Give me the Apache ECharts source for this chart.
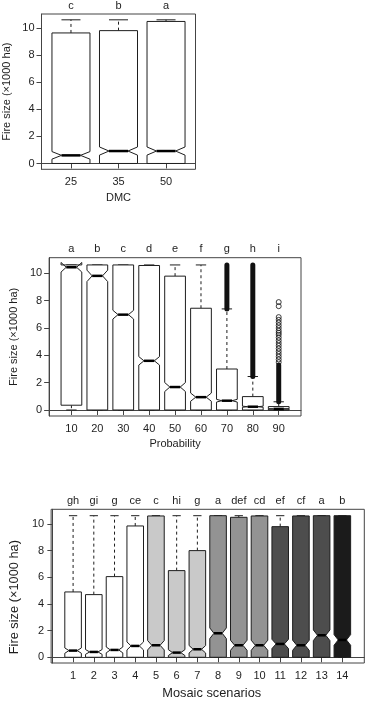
<!DOCTYPE html>
<html>
<head>
    <meta charset="utf-8" />
    <title></title>
    <script src="https://cdn.jsdelivr.net/npm/echarts@6/dist/echarts.min.js"></script>
    <style>
        body { margin: 0; background: #fff; }
        #divChart { width: 365px; height: 701px; }
    </style>
    <script>
        // y ticks shared by all three panels
        let yTicks = [0, 2, 4, 6, 8, 10];

        // panel 1: DMC
        let dmcLabels = ['25', '35', '50'];
        let dmcLetters = ['c', 'b', 'a'];
        let dmcLo = [0, 0, 0];
        let dmcQ1 = [0, 0, 0];
        let dmcMed = [0.6, 0.92, 0.92];
        let dmcQ3 = [9.65, 9.82, 10.5];
        let dmcHi = [10.62, 10.62, 10.62];
        let dmcNotch = [0.28, 0.3, 0.3];

        // panel 2: Probability
        let probLabels = ['10', '20', '30', '40', '50', '60', '70', '80', '90'];
        let probLetters = ['a', 'b', 'c', 'd', 'e', 'f', 'g', 'h', 'i'];
        let probLo = [0, 0, 0, 0, 0, 0, 0, 0, 0];
        let probQ1 = [0.35, 0, 0, 0, 0, 0, 0, 0, 0];
        let probMed = [10.45, 9.82, 6.98, 3.6, 1.68, 0.94, 0.68, 0.24, 0.08];
        let probQ3 = [10.62, 10.62, 10.62, 10.58, 9.8, 7.45, 3.0, 0.98, 0.25];
        let probHi = [10.62, 10.62, 10.62, 10.62, 10.62, 10.62, 7.4, 2.45, 0.6];
        let probNotch = [0.35, 0.42, 0.32, 0.31, 0.33, 0.3, 0.1, 0.04, 0.01];
        // dense runs of outliers (box, from, to) and single outliers
        let probOutRuns = [[7, 7.4, 10.62], [8, 2.45, 10.62], [9, 0.6, 3.3]];
        let probOutPts = [[9, 3.5], [9, 3.7], [9, 3.9], [9, 4.1], [9, 4.3], [9, 4.5], [9, 4.7], [9, 4.9],
            [9, 5.1], [9, 5.3], [9, 5.5], [9, 5.65], [9, 5.8], [9, 6.0], [9, 6.2], [9, 6.4], [9, 6.6],
            [9, 6.8], [9, 7.6], [9, 7.9]];

        // panel 3: Mosaic scenarios
        let mosLabels = ['1', '2', '3', '4', '5', '6', '7', '8', '9', '10', '11', '12', '13', '14'];
        let mosLetters = ['gh', 'gi', 'g', 'ce', 'c', 'hi', 'g', 'a', 'def', 'cd', 'ef', 'cf', 'a', 'b'];
        let mosGroup = [0, 0, 0, 0, 1, 1, 1, 2, 2, 2, 3, 3, 3, 4];
        let mosLo = [0, 0, 0, 0, 0, 0, 0, 0, 0, 0, 0, 0, 0, 0];
        let mosQ1 = [0, 0, 0, 0, 0, 0, 0, 0, 0, 0, 0, 0, 0, 0];
        let mosMed = [0.5, 0.4, 0.55, 0.85, 0.9, 0.35, 0.6, 1.8, 0.9, 0.9, 1.0, 0.9, 1.65, 1.3];
        let mosQ3 = [4.9, 4.7, 6.05, 9.85, 10.6, 6.5, 8.0, 10.62, 10.5, 10.6, 9.8, 10.6, 10.62, 10.62];
        let mosHi = [10.62, 10.62, 10.62, 10.62, 10.62, 10.62, 10.62, 10.62, 10.62, 10.62, 10.62, 10.62, 10.62, 10.62];
        let mosNotch = [0.2, 0.18, 0.22, 0.3, 0.35, 0.22, 0.28, 0.4, 0.38, 0.38, 0.35, 0.38, 0.4, 0.4];

        let mosFills = ['#ffffff', '#c9c9c9', '#939393', '#4d4d4d', '#1b1b1b'];

        let font = 'Liberation Sans, Arial, Helvetica, sans-serif';
        let ink = '#1e1e1e';

        window.addEventListener('load', function () {
            InitChart();
        });

        function rows(lo, q1, med, q3, hi, notch, group) {
            return lo.map(function (v, k) {
                return [k + 1, lo[k], q1[k], med[k], q3[k], hi[k], notch[k], group ? group[k] : 0];
            });
        }

        function renderBox(fills) {
            return function (params, api) {
                var x = api.value(0), lo = api.value(1), q1 = api.value(2), md = api.value(3),
                    q3 = api.value(4), hi = api.value(5), n = api.value(6), fill = fills[api.value(7)];
                var hw = 0.4, nw = 0.2;
                var P = function (dx, y) { return api.coord([x + dx, y]); };
                var dash = { stroke: ink, lineWidth: 1, lineDash: [3, 3] };
                var solid = { stroke: ink, lineWidth: 1 };
                var kids = [];
                if (hi > q3) {
                    var a = P(0, q3), b = P(0, hi);
                    kids.push({ type: 'line', shape: { x1: a[0], y1: a[1], x2: b[0], y2: b[1] }, style: dash });
                }
                if (lo < q1) {
                    var c = P(0, q1), d = P(0, lo);
                    kids.push({ type: 'line', shape: { x1: c[0], y1: c[1], x2: d[0], y2: d[1] }, style: dash });
                }
                var h1 = P(-nw, hi), h2 = P(nw, hi), l1 = P(-nw, lo), l2 = P(nw, lo);
                kids.push({ type: 'line', shape: { x1: h1[0], y1: h1[1], x2: h2[0], y2: h2[1] }, style: solid });
                kids.push({ type: 'line', shape: { x1: l1[0], y1: l1[1], x2: l2[0], y2: l2[1] }, style: solid });
                kids.push({
                    type: 'polygon',
                    shape: {
                        points: [P(-hw, q1), P(-hw, md - n), P(-nw, md), P(-hw, md + n), P(-hw, q3),
                            P(hw, q3), P(hw, md + n), P(nw, md), P(hw, md - n), P(hw, q1)]
                    },
                    style: { fill: fill, stroke: ink, lineWidth: 1 }
                });
                var m1 = P(-nw, md), m2 = P(nw, md);
                kids.push({ type: 'line', shape: { x1: m1[0], y1: m1[1], x2: m2[0], y2: m2[1] }, style: { stroke: '#000', lineWidth: 2.5 } });
                return { type: 'group', children: kids };
            };
        }

        function renderRun(params, api) {
            var a = api.coord([api.value(0), api.value(1)]);
            var b = api.coord([api.value(0), api.value(2)]);
            return {
                type: 'line',
                shape: { x1: a[0], y1: a[1], x2: b[0], y2: b[1] },
                style: { stroke: '#111', lineWidth: 5, lineCap: 'round' }
            };
        }

        function yAxisOf(grid, min, max, nameSize, nameGap, namePad) {
            return {
                gridIndex: grid, type: 'value', min: min, max: max,
                name: 'Fire size (×1000 ha)', nameLocation: 'middle', nameGap: nameGap,
                nameTextStyle: { fontFamily: font, fontSize: nameSize, color: ink, padding: namePad },
                axisLine: { show: true, lineStyle: { color: '#444' } },
                axisTick: { show: true, length: 5, customValues: yTicks, lineStyle: { color: '#444' } },
                axisLabel: { customValues: yTicks, margin: 7, fontFamily: font, fontSize: 11, color: ink },
                splitLine: { show: false }
            };
        }

        function xAxisOf(grid, min, max, labels, name, nameSize, nameGap, namePad) {
            var ticks = labels.map(function (v, k) { return k + 1; });
            return {
                gridIndex: grid, type: 'value', min: min, max: max, position: 'bottom',
                name: name, nameLocation: 'middle', nameGap: nameGap,
                nameTextStyle: { fontFamily: font, fontSize: nameSize, color: ink, padding: namePad },
                axisLine: { show: true, lineStyle: { color: '#444' } },
                axisTick: { show: true, length: 5, customValues: ticks, lineStyle: { color: '#444' } },
                axisLabel: {
                    customValues: ticks, margin: 7, fontFamily: font, fontSize: 11, color: ink,
                    formatter: function (v) { return labels[Math.round(v) - 1]; }
                },
                splitLine: { show: false }
            };
        }

        function topAxisOf(grid, min, max, letters) {
            var ticks = letters.map(function (v, k) { return k + 1; });
            return {
                gridIndex: grid, type: 'value', min: min, max: max, position: 'top',
                axisLine: { show: false }, axisTick: { show: false }, splitLine: { show: false },
                axisLabel: {
                    customValues: ticks, margin: 3, fontFamily: font, fontSize: 11, color: ink,
                    formatter: function (v) { return letters[Math.round(v) - 1]; }
                }
            };
        }

        function InitChart() {
            var gridStyle = { show: true, borderColor: '#444', borderWidth: 1, backgroundColor: 'transparent' };
            var option = {
                backgroundColor: '#fff',
                animation: false,
                grid: [
                    Object.assign({ left: 40.5, top: 12.3, width: 155, height: 157 }, gridStyle),
                    Object.assign({ left: 41, top: 257.7, width: 260, height: 158.3 }, gridStyle),
                    Object.assign({ left: 40.7, top: 509.3, width: 323.6, height: 157.6 }, gridStyle)
                ],
                xAxis: [
                    xAxisOf(0, 0.38, 3.62, dmcLabels, 'DMC', 11, 23, 0),
                    topAxisOf(0, 0.38, 3.62, dmcLetters),
                    xAxisOf(1, 0.14, 9.86, probLabels, 'Probability', 11, 22, 0),
                    topAxisOf(1, 0.14, 9.86, probLetters),
                    xAxisOf(2, -0.06, 15.06, mosLabels, 'Mosaic scenarios', 12.8, 24, [0, 0, 0, 8]),
                    topAxisOf(2, -0.06, 15.06, mosLetters)
                ],
                yAxis: [
                    yAxisOf(0, -0.43, 11.05, 11, 29.5, 0),
                    yAxisOf(1, -0.44, 11.15, 11, 29.5, 0),
                    yAxisOf(2, -0.43, 11.1, 12.8, 27.5, [0, 22, 0, 0])
                ],
                series: [
                    {
                        type: 'custom', xAxisIndex: 0, yAxisIndex: 0, silent: true,
                        renderItem: renderBox(['#fff']),
                        data: rows(dmcLo, dmcQ1, dmcMed, dmcQ3, dmcHi, dmcNotch)
                    },
                    {
                        type: 'custom', xAxisIndex: 2, yAxisIndex: 1, silent: true,
                        renderItem: renderBox(['#fff']),
                        data: rows(probLo, probQ1, probMed, probQ3, probHi, probNotch)
                    },
                    {
                        type: 'custom', xAxisIndex: 2, yAxisIndex: 1, silent: true,
                        renderItem: renderRun,
                        data: probOutRuns
                    },
                    {
                        type: 'scatter', xAxisIndex: 2, yAxisIndex: 1, silent: true,
                        symbol: 'circle', symbolSize: 5,
                        itemStyle: { color: 'rgba(0,0,0,0)', borderColor: '#111', borderWidth: 1 },
                        data: probOutPts
                    },
                    {
                        type: 'custom', xAxisIndex: 4, yAxisIndex: 2, silent: true,
                        renderItem: renderBox(mosFills),
                        data: rows(mosLo, mosQ1, mosMed, mosQ3, mosHi, mosNotch, mosGroup)
                    }
                ]
            };
            echarts.init(document.getElementById('divChart'), null, { renderer: 'canvas' }).setOption(option);
        }
    </script>
</head>
<body>
    <div id="divChart"></div>
</body>
</html>
